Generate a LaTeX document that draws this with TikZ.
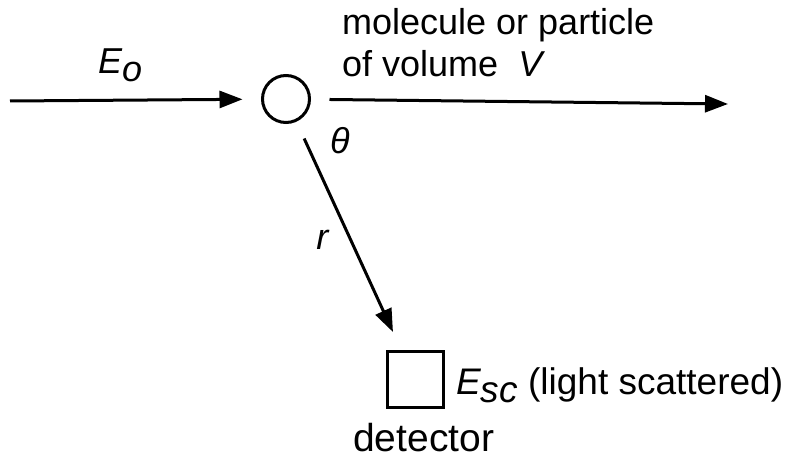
\documentclass[tikz,border=0pt]{standalone}
\usepackage{fontspec}
\setmainfont{Liberation Sans}
\usetikzlibrary{arrows.meta}

\begin{document}
\begin{tikzpicture}[x=1pt,y=-1pt,
  font=\fontsize{36}{41}\selectfont,
  ray/.style={line width=3pt, -{Triangle[length=23pt,width=17pt]}},
  particle/.style={circle, draw, line width=3pt, minimum size=47pt, inner sep=0pt, outer sep=0pt},
  detbox/.style={rectangle, draw, line width=3pt, minimum size=56pt, inner sep=0pt, outer sep=0pt},
  lbl/.style={inner sep=0pt, anchor=base west}]
\useasboundingbox (0,0) rectangle (788,462);
\node[particle] (mol) at (286,99) {};
\node[detbox] (det) at (415,380) {};
\coordinate (src) at (10,101);
\coordinate (fwd) at (728,104);
\draw[ray, shorten >=20pt] (src) -- (mol);
\draw[ray, shorten <=20pt] (mol) -- (fwd);
\draw[ray, shorten <=20pt, shorten >=22pt] (mol) -- (det);
\node[lbl] (eo) at (98,74) {\itshape E\raisebox{-8pt}{o}};
\node[lbl] (name1) at (342,35) {molecule or particle};
\node[lbl] (name2) at (342,77) {of volume \ \textit{V}};
\node[inner sep=0pt] (theta) at (340,141) {\textit{θ}};
\node[inner sep=0pt] (dist) at (323,240) {\textit{r}};
\node[lbl, font=\fontsize{37}{41}\selectfont] (esc) at (456,395) {\textit{E\raisebox{-8pt}{sc}} (light scattered)};
\node[lbl, font=\fontsize{39}{44}\selectfont] (detname) at (353,452) {detector};
\end{tikzpicture}
\end{document}
